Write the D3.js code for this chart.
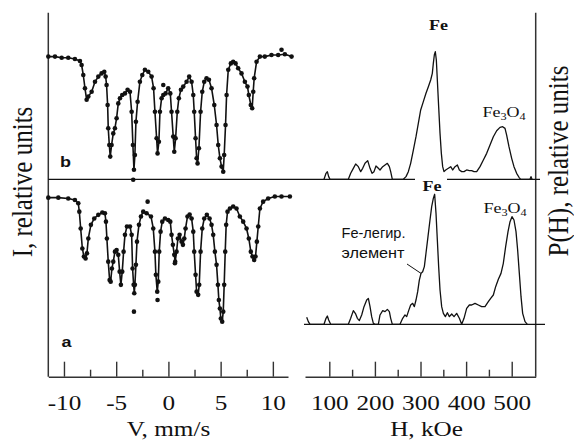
<!DOCTYPE html>
<html><head><meta charset="utf-8">
<script src="https://cdn.jsdelivr.net/npm/d3@7"></script>
<style>html,body{margin:0;padding:0;background:#fff}svg{display:block}
.serif{font-family:"Liberation Serif","DejaVu Serif",serif}
.sans{font-family:"Liberation Sans","DejaVu Sans",sans-serif}</style>
</head><body><svg id="chart" width="574" height="443"></svg>
<script>
// Mössbauer spectra: [velocity, mm/s ; relative transmission, %]
const spectrumB = [
[-11.50,99.6],[-10.86,99.6],[-10.22,99.3],[-9.59,99.3],[-8.95,99.0],[-8.47,98.5],[-8.31,97.5],[-8.15,95.0],[-7.99,91.7],[-7.83,88.8],[-7.67,89.6],[-7.35,90.8],[-7.03,93.3],[-6.71,94.6],[-6.40,95.4],[-6.14,95.8],[-6.01,94.6],[-5.92,92.5],[-5.82,87.5],[-5.76,81.7],[-5.66,77.5],[-5.57,74.6],[-5.44,77.5],[-5.28,80.4],[-5.12,81.7],[-4.96,84.2],[-4.80,87.9],[-4.64,89.2],[-4.42,90.0],[-4.16,90.4],[-3.91,91.3],[-3.68,90.8],[-3.52,85.8],[-3.40,77.5],[-3.30,71.3],[-3.21,75.0],[-3.11,83.3],[-2.95,88.3],[-2.73,93.3],[-2.50,95.0],[-2.25,96.3],[-1.93,95.8],[-1.61,94.6],[-1.42,91.7],[-1.29,85.8],[-1.13,79.2],[-1.04,75.4],[-0.91,78.3],[-0.81,85.8],[-0.65,89.2],[-0.49,90.0],[-0.27,90.4],[-0.02,91.7],[0.18,90.4],[0.30,85.8],[0.46,79.6],[0.56,75.8],[0.69,79.2],[0.85,85.8],[1.00,89.2],[1.20,91.3],[1.42,92.1],[1.74,93.3],[1.99,94.6],[2.22,93.3],[2.38,90.0],[2.47,85.8],[2.60,79.2],[2.70,74.2],[2.79,72.9],[2.92,76.7],[3.08,85.8],[3.24,90.8],[3.43,93.3],[3.65,94.2],[3.88,93.8],[4.13,91.7],[4.39,87.5],[4.61,82.5],[4.77,77.5],[4.93,74.2],[5.09,72.1],[5.25,70.8],[5.34,75.0],[5.47,82.5],[5.57,90.0],[5.73,96.3],[5.98,97.9],[6.20,98.3],[6.43,97.9],[6.68,96.7],[7.00,95.4],[7.32,93.3],[7.57,92.1],[7.70,90.0],[7.89,87.5],[8.02,86.7],[8.12,90.8],[8.21,94.2],[8.44,98.3],[8.76,99.6],[9.23,99.6],[9.87,100],[10.51,100],[11.15,100.2],[11.79,99.6]
];
const spectrumBStray = [[-3.37,68.8],[-0.49,92.5],[10.83,101.3]];

const spectrumA = [
[-11.50,100],[-10.54,100],[-9.59,99.8],[-8.95,99.4],[-8.63,98.6],[-8.53,96.5],[-8.40,92.3],[-8.24,87.3],[-8.09,85.3],[-7.93,84.8],[-7.80,86.1],[-7.67,89.8],[-7.42,93.2],[-7.10,94.8],[-6.71,95.7],[-6.33,96.3],[-6.08,96.1],[-5.98,94.0],[-5.89,89.8],[-5.76,84.0],[-5.63,79.4],[-5.53,79.0],[-5.41,82.3],[-5.28,84.0],[-5.12,86.5],[-4.96,86.9],[-4.80,85.7],[-4.67,81.5],[-4.55,78.2],[-4.42,81.5],[-4.29,86.5],[-4.16,90.7],[-3.97,92.8],[-3.68,92.8],[-3.52,90.7],[-3.43,82.3],[-3.33,78.2],[-3.27,76.1],[-3.21,78.2],[-3.11,83.2],[-3.01,89.0],[-2.82,93.2],[-2.63,95.3],[-2.41,96.5],[-2.09,96.1],[-1.67,95.3],[-1.45,92.3],[-1.29,86.5],[-1.20,80.7],[-1.07,76.5],[-0.97,79.0],[-0.88,86.5],[-0.75,91.5],[-0.59,94.0],[-0.33,94.8],[-0.02,94.4],[0.18,94.0],[0.30,90.7],[0.43,88.2],[0.56,85.7],[0.65,84.0],[0.78,86.5],[0.91,89.8],[1.07,90.7],[1.26,89.0],[1.39,88.2],[1.52,89.8],[1.64,92.3],[1.83,95.3],[2.03,95.8],[2.22,94.8],[2.38,91.5],[2.47,86.5],[2.60,80.7],[2.70,76.5],[2.85,75.7],[2.95,78.2],[3.08,86.5],[3.24,92.3],[3.43,94.8],[3.68,95.7],[3.94,94.8],[4.13,93.2],[4.29,90.7],[4.45,86.5],[4.61,83.2],[4.74,78.2],[4.83,74.4],[4.93,72.3],[5.02,69.8],[5.15,69.0],[5.25,71.5],[5.34,78.2],[5.44,86.5],[5.53,93.2],[5.66,96.5],[5.89,97.3],[6.20,97.8],[6.52,97.3],[6.84,95.3],[7.16,94.0],[7.48,92.3],[7.70,89.8],[7.89,86.5],[8.05,85.3],[8.21,84.4],[8.34,85.3],[8.47,89.0],[8.60,92.8],[8.76,97.3],[9.07,99.0],[9.55,99.8],[10.19,100.3],[10.83,100.3],[11.63,100.3]
];
const spectrumAStray = [[-3.30,71.5],[-1.04,74.4],[0.62,83.6],[-1.99,99.0]];

// Hyperfine field distributions: [H, kOe ; P(H), relative units]
const fieldB = [
[88.4,0],[92.8,4.7],[95.7,6.0],[98.6,2.1],[101.5,0],[141.7,0],[146.9,4.7],[152.7,8.6],[157.8,12.0],[163.7,9.9],[168.8,6.0],[173.2,8.6],[178.3,12.5],[184.2,14.6],[189.3,8.6],[193.7,4.7],[198.0,6.0],[202.4,10.4],[207.5,8.6],[211.2,7.3],[217.1,9.9],[222.2,11.2],[227.3,12.5],[231.7,9.9],[234.6,6.0],[238.2,0],[262.4,0],[268.2,2.1],[273.3,6.0],[278.4,12.5],[284.3,22.9],[290.1,33.3],[295.2,43.8],[300.4,54.2],[306.2,60.7],[312.0,67.2],[317.2,72.4],[322.3,77.6],[325.9,82.8],[328.1,90.6],[330.3,97.1],[332.5,99.7],[334.7,93.2],[336.9,77.6],[339.8,56.8],[342.8,35.9],[345.7,20.3],[348.6,9.9],[351.5,6.0],[355.2,7.3],[361.1,8.6],[366.2,9.9],[370.6,7.3],[375.7,9.9],[380.8,11.2],[385.2,7.3],[390.3,6.0],[395.4,6.0],[401.2,7.3],[407.1,6.8],[412.2,6.8],[417.3,6.0],[423.2,6.0],[430.5,9.9],[437.8,15.1],[445.1,20.3],[452.4,26.8],[459.7,33.3],[467.0,38.0],[474.3,40.6],[480.2,41.1],[485.3,39.8],[488.9,34.6],[494.0,25.5],[499.9,16.4],[505.0,9.9],[510.8,4.7],[516.0,1.6],[519.6,0],[540.1,0],[542.3,2.1],[544.5,0]
];
const fieldA = [
[50.4,5.5],[54.0,2.1],[57.7,0],[88.4,0],[92.8,4.7],[95.7,6.5],[98.6,3.4],[103.0,0],[141.7,0],[146.9,4.7],[152.7,10.7],[157.8,8.1],[161.5,4.7],[165.9,2.9],[171.0,7.3],[176.1,13.8],[182.0,19.0],[185.6,20.3],[189.3,13.8],[192.9,6.0],[196.6,0.8],[200.2,0],[207.5,0],[211.2,7.3],[217.1,10.7],[222.2,9.9],[227.3,11.7],[231.7,9.9],[234.6,4.7],[238.2,0],[255.0,0],[260.9,4.7],[266.0,7.3],[269.7,6.0],[274.0,10.7],[278.4,15.1],[282.8,16.4],[286.5,13.8],[290.1,19.0],[293.8,25.5],[297.4,34.6],[301.1,39.8],[304.7,41.1],[308.4,45.1],[312.0,55.5],[316.4,68.5],[320.8,81.5],[324.5,91.9],[328.1,98.4],[331.0,101.6],[334.0,86.7],[336.9,65.9],[339.8,45.1],[342.8,26.8],[346.4,13.8],[350.1,8.6],[354.5,6.0],[358.9,9.1],[363.3,6.0],[368.4,8.1],[373.5,6.0],[379.3,8.6],[385.2,4.7],[390.3,0],[395.4,4.7],[401.2,12.5],[407.1,15.1],[412.2,15.1],[419.5,16.4],[426.8,15.1],[434.1,13.8],[441.4,13.8],[448.7,17.7],[453.9,20.3],[459.7,22.9],[464.8,29.4],[470.7,35.2],[476.5,39.8],[481.6,47.7],[486.7,60.7],[491.9,72.4],[496.3,80.2],[500.6,84.1],[505.0,81.5],[509.4,72.4],[513.0,58.1],[516.7,39.8],[520.4,21.6],[524.0,8.6],[529.2,2.1],[534.3,0]
];

// Axis ticks
const velocityTicks = [-10, -5, 0, 5, 10];
const velocityMinorTicks = [-7.5, -2.5, 2.5, 7.5];
const fieldTicks = [100, 200, 300, 400, 500];
const fieldMinorTicks = [150, 250, 350, 450];

const SX = 1.2;           // horizontal widening of lettering
const axisY = 376.7, topY = 12.7;
const ink = "#111";

const svg = d3.select("#chart");
svg.append("rect").attr("width", 574).attr("height", 443).attr("fill", "#fff");

const xV = d3.scaleLinear().domain([-11.5, 11.45]).range([48.3, 288]);
const xH = d3.scaleLinear().domain([46.7, 552.6]).range([305, 535.7]);
const yB = d3.scaleLinear().domain([70, 100]).range([175, 55]);
const yA = d3.scaleLinear().domain([70, 100]).range([317.67, 197.67]);
const pB = d3.scaleLinear().domain([0, 100]).range([179.33, 51.33]);
const pA = d3.scaleLinear().domain([0, 100]).range([324.33, 196.33]);

// frame: vertical axes
svg.append("line").attr("x1", xV.range()[0]).attr("x2", xV.range()[0])
  .attr("y1", topY).attr("y2", axisY).attr("stroke", "#333").attr("stroke-width", 1.5);
svg.append("line").attr("x1", xH.range()[1]).attr("x2", xH.range()[1])
  .attr("y1", topY).attr("y2", axisY).attr("stroke", "#333").attr("stroke-width", 1.5);

// zero lines of the two P(H) curves
svg.append("line").attr("x1", xV.range()[0]).attr("x2", 540)
  .attr("y1", pB(0)).attr("y2", pB(0)).attr("stroke", ink).attr("stroke-width", 1.4);
svg.append("line").attr("x1", 304).attr("x2", 545)
  .attr("y1", pA(0)).attr("y2", pA(0)).attr("stroke", ink).attr("stroke-width", 1.4);

// bottom axes
function bottomAxis(scale, major, minor, fmt) {
  const g = svg.append("g").attr("transform", `translate(0,${axisY})`);
  g.call(d3.axisBottom(scale).tickValues(major).tickSize(-15).tickSizeOuter(0)
    .tickPadding(18.5).tickFormat(fmt));
  g.attr("font-family", null).attr("font-size", null);
  g.select(".domain").attr("stroke", "#333").attr("stroke-width", 1.5);
  g.selectAll(".tick line").attr("stroke", "#333").attr("stroke-width", 1.4);
  g.selectAll(".tick text").attr("class", "serif").style("font-size", "21px")
    .attr("fill", ink).attr("transform", `scale(${SX},1)`);
  const m = svg.append("g").attr("transform", `translate(0,${axisY})`);
  m.call(d3.axisBottom(scale).tickValues(minor).tickSize(-7).tickSizeOuter(0).tickFormat(""));
  m.select(".domain").remove();
  m.selectAll(".tick line").attr("stroke", "#333").attr("stroke-width", 1.4);
}
bottomAxis(xV, velocityTicks, velocityMinorTicks, d => d < 0 ? "-" + Math.abs(d) : String(d));
bottomAxis(xH, fieldTicks, fieldMinorTicks, d => String(d));

// Mössbauer spectra: fitted trace with measured points
function spectrum(data, stray, y) {
  const line = d3.line().x(d => xV(d[0])).y(d => y(d[1]));
  svg.append("path").datum(data).attr("d", line).attr("fill", "none")
    .attr("stroke", ink).attr("stroke-width", 1.6).attr("stroke-linejoin", "round");
  svg.append("g").selectAll("circle").data(data.concat(stray)).join("circle")
    .attr("cx", d => xV(d[0])).attr("cy", d => y(d[1])).attr("r", 2.3).attr("fill", ink);
}
spectrum(spectrumB, spectrumBStray, yB);
spectrum(spectrumA, spectrumAStray, yA);

// P(H) distributions
function field(data, p) {
  const line = d3.line().x(d => xH(d[0])).y(d => p(d[1]));
  svg.append("path").datum(data).attr("d", line).attr("fill", "none")
    .attr("stroke", ink).attr("stroke-width", 1.3).attr("stroke-linejoin", "round");
}
field(fieldB, pB);
field(fieldA, pA);

// text helper (letters slightly widened)
function label(x, y, cls, size, weight, parts, anchor) {
  const t = svg.append("text").attr("class", cls)
    .attr("transform", `translate(${x},${y}) scale(${SX},1)`)
    .style("font-size", size + "px").style("font-weight", weight || "normal")
    .attr("fill", ink).attr("text-anchor", anchor || "middle");
  parts.forEach(p => {
    const s = t.append("tspan").text(p.t);
    if (p.sub) s.style("font-size", (size * 0.68) + "px").attr("dy", 3);
    else if (p.back) s.attr("dy", -3);
  });
  return t;
}
const fe3o4 = [{t: "Fe"}, {t: "3", sub: true}, {t: "O", back: true}, {t: "4", sub: true}];

// panel letters
label(65.5, 166.5, "sans", 15, "bold", [{t: "b"}]);
label(66.5, 347, "sans", 15, "bold", [{t: "a"}]);

// phase labels, upper distribution
label(438.5, 30, "serif", 15, "bold", [{t: "Fe"}]);
label(504, 116.5, "serif", 15, "normal", fe3o4);

// phase labels, lower distribution
svg.append("rect").attr("x", 415).attr("y", 175).attr("width", 32).attr("height", 9).attr("fill", "#fff");
label(432, 191, "serif", 15, "bold", [{t: "Fe"}]);
label(505, 212.5, "serif", 15, "normal", fe3o4);

svg.append("text").attr("class", "sans").attr("x", 341.5).attr("y", 237.5).style("font-size", "15px")
  .attr("fill", ink).attr("textLength", 64).attr("lengthAdjust", "spacingAndGlyphs").text("Fe-легир.");
svg.append("text").attr("class", "sans").attr("x", 341.5).attr("y", 258).style("font-size", "15px")
  .attr("fill", ink).attr("textLength", 63).attr("lengthAdjust", "spacingAndGlyphs").text("элемент");
const leaderTo = fieldA.find(d => d[0] > 300);
svg.append("line").attr("x1", 407).attr("y1", 264)
  .attr("x2", xH(leaderTo[0])).attr("y2", pA(leaderTo[1]))
  .attr("stroke", ink).attr("stroke-width", 1);

// axis titles
label(xV(0), 436, "serif", 21, "normal", [{t: "V, mm/s"}]);
label(xH(300) + 6, 436, "serif", 21, "normal", [{t: "H, kOe"}]);

svg.append("text").attr("class", "serif")
  .attr("transform", `translate(32,182) scale(${SX},1) rotate(-90)`)
  .style("font-size", "25px").attr("fill", ink)
  .attr("text-anchor", "middle").text("I, relative units");
svg.append("text").attr("class", "serif")
  .attr("transform", `translate(568,161) scale(${SX},1) rotate(-90)`)
  .style("font-size", "25px").attr("fill", ink)
  .attr("text-anchor", "middle").text("P(H), relative units");
</script></body></html>
